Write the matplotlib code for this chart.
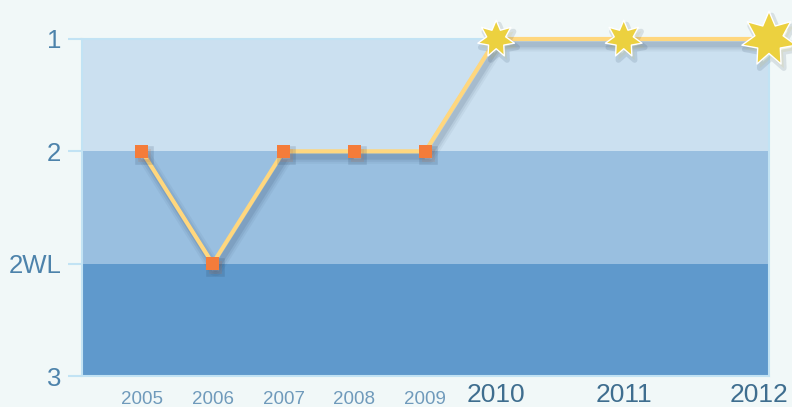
import matplotlib
matplotlib.use("Agg")
import numpy as np
import matplotlib.pyplot as plt
import matplotlib.patheffects as pe
import matplotlib.transforms as mtransforms
from matplotlib.path import Path

# ---- data ----
years = ["2005", "2006", "2007", "2008", "2009", "2010", "2011", "2012"]
levels = ["1", "2", "2WL", "3"]
ratings = ["2", "2WL", "2", "2", "2", "1", "1", "1"]

# ---- layout (relative column gaps of the original x scale) ----
gaps = [1.0, 1.0, 1.0, 1.0, 1.0, 1.8, 2.05]
x_pos = [0.0]
for g in gaps:
    x_pos.append(x_pos[-1] + g)

# 7-point star marker with a fat body
npts = 7
ang = np.pi / 2 + np.arange(2 * npts) * np.pi / npts
rad = np.where(np.arange(2 * npts) % 2 == 0, 1.0, 0.52)
verts = np.column_stack([rad * np.cos(ang), rad * np.sin(ang)])
verts = np.vstack([verts, verts[:1]])
star = Path(verts, [Path.MOVETO] + [Path.LINETO] * (2 * npts - 1) + [Path.CLOSEPOLY])

fig = plt.figure(figsize=(7.92, 4.07), dpi=100)
fig.patch.set_facecolor("#f1f8f8")
ax = fig.add_axes([82/792, 1-376/407, (769-82)/792, (376-39)/407])

y_idx = [levels.index(r) for r in ratings]
ax.set_ylim(len(levels) - 1, 0)
ax.set_xlim(-0.845, 8.83)

band_colors = ["#cbe0f0", "#99bfe0", "#5f99cc"]
for i, c in enumerate(band_colors):
    ax.axhspan(i, i + 1, color=c, zorder=0, lw=0)

for s in ["left", "top", "right", "bottom"]:
    ax.spines[s].set_color("#c2e3f4")
    ax.spines[s].set_linewidth(1.5)
ax.set_facecolor("none")

ax.set_yticks(range(len(levels)))
ax.set_yticklabels(levels, fontsize=18.5, color="#4d83ab", family="Liberation Sans")
ax.tick_params(axis="y", length=10, width=1.5, color="#c2e3f4", pad=5)

ax.set_xticks(x_pos)
ax.set_xticklabels(years)
ax.tick_params(axis="x", length=0, pad=4)
labs = ax.get_xticklabels()
for i, lab in enumerate(labs):
    lab.set_family("Liberation Sans")
    if i >= 5:
        lab.set_fontsize(19)
        lab.set_color("#3f6e8f")
        dx, dy = (-10 if i == len(labs) - 1 else 0), -1
    else:
        lab.set_fontsize(13.5)
        lab.set_color("#6f9abb")
        dx, dy = 0, -9
    lab.set_transform(lab.get_transform() +
                      mtransforms.ScaledTranslation(dx/100, dy/100, fig.dpi_scale_trans))

soft_shadow = [pe.Stroke(offset=(2, -4), linewidth=w, foreground="#1e3550", alpha=a)
               for w, a in [(10, 0.05), (7, 0.07), (4, 0.10)]] + [pe.Normal()]

ax.plot(x_pos, y_idx, color="#ffd77e", lw=3, zorder=3, solid_capstyle="round",
        clip_on=False, path_effects=soft_shadow)

for i, (x, y) in enumerate(zip(x_pos, y_idx)):
    if ratings[i] == "1":
        ms = 40 if i == len(years) - 1 else 27
        ax.plot([x], [y], marker=star, ms=ms, color="#ecd13f", mec="white", mew=1,
                zorder=5, clip_on=False,
                path_effects=[pe.Stroke(offset=(2, -3), linewidth=4, foreground="#1e3550", alpha=0.12),
                              pe.Normal()])
    else:
        ax.plot([x], [y], marker="s", ms=9.5, color="#f47c3a", mec="#f47c3a", mew=0,
                zorder=5, clip_on=False,
                path_effects=[pe.Stroke(offset=(2, -3), linewidth=4, foreground="#1e3550", alpha=0.15),
                              pe.Normal()])

fig.savefig("out.png", dpi=100, facecolor=fig.get_facecolor())
